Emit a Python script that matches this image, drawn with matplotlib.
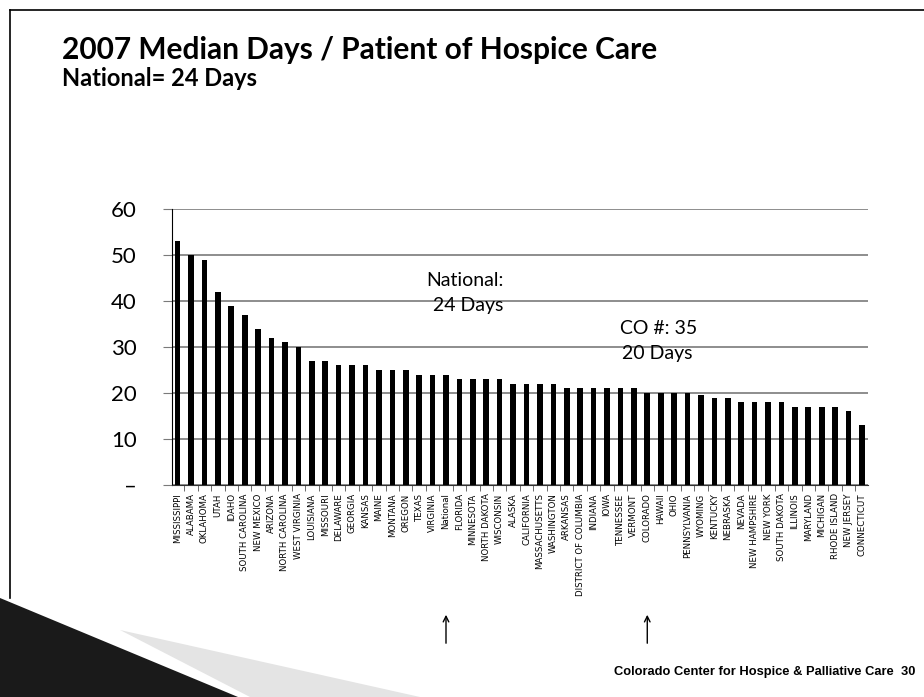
import matplotlib
matplotlib.use("Agg")
import matplotlib.pyplot as plt
from matplotlib.patches import Polygon

# median days per patient, 2007
states = ["MISSISSIPPI", "ALABAMA", "OKLAHOMA", "UTAH", "IDAHO", "SOUTH CAROLINA",
          "NEW MEXICO", "ARIZONA", "NORTH CAROLINA", "WEST VIRGINIA", "LOUISIANA",
          "MISSOURI", "DELAWARE", "GEORGIA", "KANSAS", "MAINE", "MONTANA", "OREGON",
          "TEXAS", "VIRGINIA", "National", "FLORIDA", "MINNESOTA", "NORTH DAKOTA",
          "WISCONSIN", "ALASKA", "CALIFORNIA", "MASSACHUSETTS", "WASHINGTON",
          "ARKANSAS", "DISTRICT OF COLUMBIA", "INDIANA", "IOWA", "TENNESSEE",
          "VERMONT", "COLORADO", "HAWAII", "OHIO", "PENNSYLVANIA", "WYOMING",
          "KENTUCKY", "NEBRASKA", "NEVADA", "NEW HAMPSHIRE", "NEW YORK",
          "SOUTH DAKOTA", "ILLINOIS", "MARYLAND", "MICHIGAN", "RHODE ISLAND",
          "NEW JERSEY", "CONNECTICUT"]
days = [53, 50, 49, 42, 39, 37, 34, 32, 31, 30, 27, 27, 26, 26, 26, 25, 25, 25,
        24, 24, 24, 23, 23, 23, 23, 22, 22, 22, 22, 21, 21, 21, 21, 21, 21, 20,
        20, 20, 20, 19.5, 19, 19, 18, 18, 18, 18, 17, 17, 17, 17, 16, 13]
yticks = [0, 10, 20, 30, 40, 50, 60]
ylabels = ["\u2013", "10", "20", "30", "40", "50", "60"]
arrow_at = ["National", "COLORADO"]

W, H = 924, 697
fig = plt.figure(figsize=(W / 100, H / 100), dpi=100)

def fx(px):
    return px / W

def fy(py):
    return 1 - py / H

# slide frame (top and left edges)
fig.add_artist(plt.Line2D([fx(10), fx(10)], [fy(10), fy(598)], color="black", lw=1.2))
fig.add_artist(plt.Line2D([fx(10), fx(924)], [fy(10), fy(10)], color="black", lw=1.2))

# decorative swoosh bottom left
fig.add_artist(Polygon([[fx(120), fy(630)], [fx(420), fy(697)], [fx(250), fy(697)]],
                       closed=True, transform=fig.transFigure, color="#e4e4e4", lw=0))
fig.add_artist(Polygon([[fx(0), fy(598)], [fx(238), fy(697)], [fx(0), fy(697)]],
                       closed=True, transform=fig.transFigure, color="#1a1a1a", lw=0))

fig.text(fx(62), fy(50), "2007 Median Days / Patient of Hospice Care", family="Lato",
         fontweight="bold", fontsize=21.5, va="center", ha="left")
fig.text(fx(62), fy(78), "National= 24 Days", family="Lato", fontweight="bold",
         fontsize=17, va="center", ha="left")

ax = fig.add_axes([fx(172), fy(485), fx(868 - 172), (485 - 209) / H])
x = list(range(len(states)))
ax.bar(x, days, width=0.42, color="black", zorder=3)
ax.set_xlim(-0.42, len(states) - 1 + 0.45)
ax.set_ylim(0, 60)

ax.set_yticks(yticks)
ax.set_yticklabels(ylabels, family="Lato", fontsize=16)
ax.yaxis.grid(True, color="#7a7a7a", lw=1.2, zorder=0)
ax.tick_params(axis="y", length=6.5, color="#7a7a7a", pad=19)

ax.set_xticks(x)
ax.set_xticklabels(states, rotation=90, family=["Liberation Sans Narrow", "DejaVu Sans"],
                   fontsize=6.2)
ax.tick_params(axis="x", which="major", length=0, pad=6)
ax.set_xticks([i + 0.5 for i in x[:-1]], minor=True)
ax.tick_params(axis="x", which="minor", length=4, color="#555555")

for s in ["top", "right"]:
    ax.spines[s].set_visible(False)
ax.spines["left"].set_color("black")
ax.spines["bottom"].set_color("#333333")
ax.set_facecolor("none")

fig.text(fx(465), fy(280), "National:", family="Lato", fontsize=14, ha="center", va="center")
fig.text(fx(468), fy(306), "24 Days", family="Lato", fontsize=14, ha="center", va="center")
fig.text(fx(659), fy(328), "CO #: 35", family="Lato", fontsize=14, ha="center", va="center")
fig.text(fx(657), fy(354), "20 Days", family="Lato", fontsize=14, ha="center", va="center")

for name in arrow_at:
    i = states.index(name)
    ax.annotate("", xy=(i, fy(612)), xycoords=("data", "figure fraction"),
                xytext=(i, fy(646)), textcoords=("data", "figure fraction"),
                arrowprops=dict(arrowstyle="->", lw=1, color="black"),
                annotation_clip=False)

fig.text(fx(915), fy(672), "Colorado Center for Hospice & Palliative Care  30",
         family="Liberation Sans", fontweight="bold", fontsize=9.3, ha="right", va="center")

fig.savefig("out.png", dpi=100)
